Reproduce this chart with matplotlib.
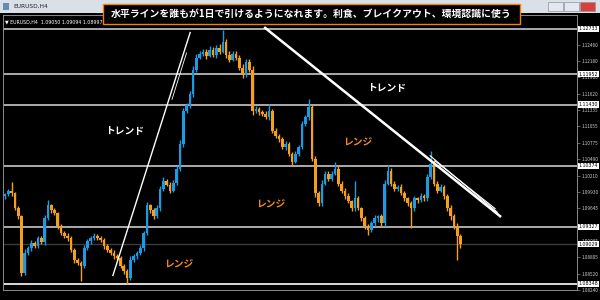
import matplotlib
matplotlib.use("Agg")
import matplotlib.pyplot as plt
from matplotlib.patches import Rectangle

plt.rcParams["font.family"] = ["Noto Sans CJK JP", "DejaVu Sans"]

# EURUSD H4 - Schlusskurse (von links nach rechts)
CLOSE = [
    1.09884, 1.09935, 1.09901, 1.09645, 1.09509, 1.08536, 1.08877, 1.08963, 1.09048, 1.08997,
    1.09133, 1.09065, 1.09475, 1.09696, 1.09611, 1.09560, 1.09338, 1.09219, 1.09167, 1.09133,
    1.08929, 1.08758, 1.08707, 1.08656, 1.08963, 1.09082, 1.09133, 1.09167, 1.09133, 1.09099,
    1.08997, 1.08929, 1.08877, 1.08826, 1.08792, 1.08656, 1.08570, 1.08451, 1.08758, 1.08826,
    1.08877, 1.08963, 1.09219, 1.09696, 1.09611, 1.09509, 1.09645, 1.09986, 1.10123, 1.10055,
    1.09952, 1.10089, 1.10328, 1.10754, 1.11317, 1.11419, 1.11607, 1.12033, 1.12238, 1.12306,
    1.12341, 1.12272, 1.12375, 1.12289, 1.12409, 1.12341, 1.12511, 1.12289, 1.12204, 1.12306,
    1.12238, 1.12068, 1.11948, 1.12170, 1.12033, 1.11317, 1.11351, 1.11300, 1.11266, 1.11215,
    1.11317, 1.10976, 1.10890, 1.10839, 1.10703, 1.10754, 1.10583, 1.10447, 1.10583, 1.10703,
    1.11095, 1.11215, 1.11385, 1.10498, 1.09901, 1.09730, 1.10072, 1.10242, 1.10157, 1.10242,
    1.10328, 1.10072, 1.09952, 1.09850, 1.09765, 1.09645, 1.09816, 1.09645, 1.09475, 1.09338,
    1.09270, 1.09389, 1.09475, 1.09509, 1.09389, 1.10072, 1.10293, 1.10072, 1.09986, 1.10020,
    1.09901, 1.09816, 1.09730, 1.09645, 1.09816, 1.09782, 1.09850, 1.09816, 1.10191, 1.10413,
    1.10072, 1.09952, 1.10020, 1.09850, 1.09645, 1.09509, 1.09338, 1.09167, 1.09029,
]
FIRST_OPEN = 1.09850

# Dochtlaengen in Pips (oben / unten)
UP_WICK = [
    3, 4, 17, 3, 4, 3, 6, 4, 5, 3,
    4, 3, 5, 9, 3, 4, 3, 4, 3, 5,
    3, 4, 3, 4, 5, 3, 4, 5, 3, 4,
    3, 4, 3, 5, 3, 4, 3, 3, 6, 4,
    3, 5, 4, 6, 3, 4, 5, 4, 6, 3,
    4, 5, 4, 6, 5, 4, 5, 6, 7, 4,
    5, 4, 6, 4, 5, 6, 20, 4, 6, 4,
    5, 4, 6, 5, 4, 6, 5, 4, 3, 5,
    12, 4, 5, 3, 4, 5, 4, 3, 5, 4,
    5, 4, 14, 6, 4, 5, 6, 4, 5, 4,
    12, 4, 5, 4, 6, 3, 30, 4, 3, 4,
    3, 4, 5, 3, 4, 6, 9, 4, 5, 3,
    4, 5, 3, 4, 5, 3, 6, 4, 5, 22,
    6, 4, 5, 3, 4, 5, 4, 6, 3,
]
DN_WICK = [
    4, 3, 4, 3, 5, 5, 4, 3, 5, 4,
    3, 4, 5, 3, 4, 3, 5, 4, 3, 5,
    4, 5, 3, 26, 4, 3, 5, 4, 3, 4,
    5, 3, 4, 5, 3, 4, 5, 10, 4, 3,
    5, 4, 5, 3, 4, 5, 3, 4, 5, 3,
    4, 3, 5, 4, 6, 3, 4, 5, 4, 3,
    4, 5, 3, 4, 5, 4, 3, 5, 4, 3,
    4, 5, 6, 4, 5, 6, 4, 5, 3, 4,
    5, 4, 3, 5, 4, 6, 4, 5, 3, 4,
    4, 3, 5, 4, 6, 5, 4, 3, 5, 4,
    3, 4, 5, 4, 3, 5, 4, 3, 5, 4,
    9, 4, 5, 6, 4, 5, 3, 4, 5, 4,
    3, 5, 4, 34, 4, 5, 3, 4, 5, 4,
    4, 5, 3, 4, 5, 6, 5, 41, 6,
]

# horizontale Linien (Unterstuetzung / Widerstand)
LEVELS = [1.12733, 1.11952, 1.11430, 1.10374, 1.09327, 1.08348]
LAST_PRICE = 1.09029
TICKS = [1.12460, 1.12180, 1.11900, 1.11620, 1.11335, 1.11055, 1.10775, 1.10490,
         1.10210, 1.09930, 1.09645, 1.09085, 1.08805, 1.08520, 1.08240]

TITLE = "水平ラインを誰もが1日で引けるようになれます。利食、ブレイクアウト、環境認識に使う"

BULL = "#1C9BE4"
BEAR = "#F5A01A"
W, H = 600, 300

OPEN = [FIRST_OPEN] + CLOSE[:-1]
HIGH = [max(o, c) + u * 0.0001 for o, c, u in zip(OPEN, CLOSE, UP_WICK)]
LOW = [min(o, c) - d * 0.0001 for o, c, d in zip(OPEN, CLOSE, DN_WICK)]
idx = list(range(len(CLOSE)))
colors = [BULL if c >= o else BEAR for o, c in zip(OPEN, CLOSE)]

fig = plt.figure(figsize=(6, 3), dpi=100)
fig.patch.set_facecolor("black")

# Fenster-Titelleiste
fig.add_artist(Rectangle((0, 1 - 13 / H), 1, 13 / H, transform=fig.transFigure,
                         facecolor="#D9E0E8", edgecolor="none"))
fig.add_artist(Rectangle((3 / W, 1 - 10 / H), 6 / W, 7 / H, transform=fig.transFigure,
                         facecolor="#6A8BB0", edgecolor="none"))
fig.text(13 / W, 1 - 6.5 / H, "EURUSD,H4", fontsize=4.2, color="#222222",
         ha="left", va="center", family="DejaVu Sans")
for x0, fc in [(548, "#E4E8EE"), (564, "#E4E8EE"), (580, "#D9403A")]:
    fig.add_artist(Rectangle((x0 / W, 1 - 11 / H), 15 / W, 9 / H, transform=fig.transFigure,
                             facecolor=fc, edgecolor="#8A96A6", lw=0.5))

ax = fig.add_axes([3 / W, 10 / H, 574 / W, 275 / H])
ax.set_facecolor("black")
for s in ax.spines.values():
    s.set_color("#8A8A8A")
    s.set_linewidth(0.7)

# Kerzen
ax.vlines(idx, LOW, HIGH, colors=colors, linewidth=1.0, zorder=3)
ax.bar(idx, [abs(c - o) for o, c in zip(OPEN, CLOSE)], bottom=[min(o, c) for o, c in zip(OPEN, CLOSE)],
       width=0.8, color=colors, linewidth=0, zorder=3)

for lv in LEVELS:
    ax.axhline(lv, color="#C8C8C8" if lv != 1.08348 else "white", lw=1.2, zorder=2)
ax.axhline(LAST_PRICE, color="#3C3C3C", lw=1.0, zorder=2)

# Trendlinien
ax.plot([32.7, 56.1], [1.0849, 1.1267], color="white", lw=1.0, zorder=4)
ax.plot([50.6, 55.0], [1.1152, 1.1232], color="white", lw=0.6, zorder=4)
ax.plot([78.8, 150.0], [1.1275, 1.0951], color="white", lw=1.8, zorder=4)
ax.plot([128.8, 149.1], [1.1055, 1.0958], color="white", lw=0.8, zorder=4)
ax.plot([130.3, 148.5], [1.1046, 1.0964], color="white", lw=0.8, zorder=4)

ax.set_xlim(-0.6, 173.3)
ax.set_ylim(1.082803, 1.129718)
ax.set_xticks([])
ax.yaxis.tick_right()
ax.set_yticks(TICKS)
ax.set_yticklabels([f"{t:.5f}" for t in TICKS])
ax.tick_params(axis="y", colors="#8A8A8A", labelcolor="#CCCCCC", labelsize=3.4,
               length=2, width=0.5, pad=1.5)

for lv in LEVELS + [LAST_PRICE]:
    ax.text(1.003, lv, f"{lv:.5f}", transform=ax.get_yaxis_transform(), fontsize=3.4,
            color="black", ha="left", va="center", family="DejaVu Sans",
            bbox=dict(boxstyle="square,pad=0.15", fc="white", ec="none"), zorder=6)

ax.text(0.004, 0.985, "▼ EURUSD,H4  1.09050 1.09094 1.08997 1.09029", transform=ax.transAxes,
        fontsize=3.4, color="white", ha="left", va="top", family="DejaVu Sans")

# Beschriftungen
def px_text(x, y, s, color, size):
    fig.text(x / W, 1 - y / H, s, color=color, fontsize=size, ha="center", va="center",
             fontweight="bold")

px_text(125, 131, "トレンド", "white", 7)
px_text(387, 88, "トレンド", "white", 7)
px_text(358, 142, "レンジ", "#F58A1F", 7)
px_text(271, 204, "レンジ", "#F58A1F", 7)
px_text(179, 264, "レンジ", "#F58A1F", 7)

# Ueberschrift im Kasten
fig.add_artist(Rectangle((103 / W, 1 - 24 / H), 417 / W, 20 / H, transform=fig.transFigure,
                         facecolor="black", edgecolor="#F08010", lw=1.0, zorder=10))
fig.text(311.5 / W, 1 - 14 / H, TITLE, color="white", fontsize=7.1, fontweight="bold",
         ha="center", va="center", zorder=11)

plt.savefig("out.png", dpi=100, facecolor=fig.get_facecolor())
plt.close()
